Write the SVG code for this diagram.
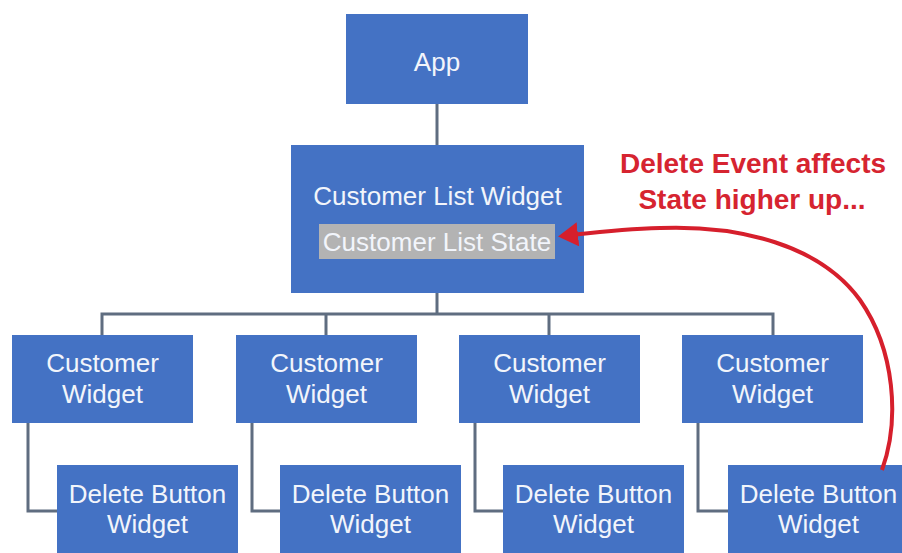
<svg xmlns="http://www.w3.org/2000/svg" width="902" height="553" viewBox="0 0 902 553">
<style>
.box{fill:#4472c4;}
.t{font-family:"Liberation Sans",Arial,sans-serif;font-size:26px;fill:#f2f5fb;text-anchor:middle;}
.conn{fill:none;stroke:#5f6d80;stroke-width:3;}
.red{font-family:"Liberation Sans",Arial,sans-serif;font-size:28px;font-weight:bold;fill:#d62430;text-anchor:middle;}
</style>
<defs>
<marker id="ah" markerWidth="6" markerHeight="6" refX="4" refY="3" orient="auto" markerUnits="strokeWidth">
<path d="M0,0 L5,3 L0,6 Z" fill="#d61f2c"/>
</marker>
</defs>
<rect width="902" height="553" fill="#ffffff"/>
<g id="connectors">
<path class="conn" d="M437,104 V145"/>
<path class="conn" d="M437,293 V314"/>
<path class="conn" d="M102,335 V314 H773 V335"/>
<path class="conn" d="M326,314 V335"/>
<path class="conn" d="M549,314 V335"/>
<path class="conn" d="M28,423 V511 H57"/>
<path class="conn" d="M252,423 V511 H280"/>
<path class="conn" d="M475,423 V511 H503"/>
<path class="conn" d="M698,423 V511 H728"/>
</g>
<g id="app">
<rect class="box" x="346" y="14" width="182" height="90"/>
<text class="t" x="437" y="71">App</text>
</g>
<g id="customer-list-widget">
<rect class="box" x="291" y="145" width="293" height="148"/>
<text class="t" x="437.5" y="205">Customer List Widget</text>
<rect x="319" y="224" width="236" height="35" fill="#b3b3b3"/>
<text class="t" x="437" y="251">Customer List State</text>
</g>
<g id="customer-widget-1">
<rect class="box" x="12" y="335" width="181" height="88"/>
<text class="t" x="102.5" y="372">Customer<tspan x="102.5" dy="31">Widget</tspan></text>
</g>
<g id="customer-widget-2">
<rect class="box" x="236" y="335" width="181" height="88"/>
<text class="t" x="326.5" y="372">Customer<tspan x="326.5" dy="31">Widget</tspan></text>
</g>
<g id="customer-widget-3">
<rect class="box" x="459" y="335" width="181" height="88"/>
<text class="t" x="549.5" y="372">Customer<tspan x="549.5" dy="31">Widget</tspan></text>
</g>
<g id="customer-widget-4">
<rect class="box" x="682" y="335" width="181" height="88"/>
<text class="t" x="772.5" y="372">Customer<tspan x="772.5" dy="31">Widget</tspan></text>
</g>
<g id="delete-button-1">
<rect class="box" x="57" y="465" width="181" height="90"/>
<text class="t" x="147.5" y="503">Delete Button<tspan x="147.5" dy="30">Widget</tspan></text>
</g>
<g id="delete-button-2">
<rect class="box" x="280" y="465" width="181" height="90"/>
<text class="t" x="370.5" y="503">Delete Button<tspan x="370.5" dy="30">Widget</tspan></text>
</g>
<g id="delete-button-3">
<rect class="box" x="503" y="465" width="181" height="90"/>
<text class="t" x="593.5" y="503">Delete Button<tspan x="593.5" dy="30">Widget</tspan></text>
</g>
<g id="delete-button-4">
<rect class="box" x="728" y="465" width="181" height="90"/>
<text class="t" x="818.5" y="503">Delete Button<tspan x="818.5" dy="30">Widget</tspan></text>
</g>
<g id="annotation">
<text class="red" x="753" y="173">Delete Event affects<tspan x="752" dy="36">State higher up...</tspan></text>
<path d="M882,470 C900,420 895,350 860,300 C820,245 740,225 660,228 C620,229 590,233 562,236" fill="none" stroke="#d61f2c" stroke-width="4" marker-end="url(#ah)"/>
</g>
</svg>
